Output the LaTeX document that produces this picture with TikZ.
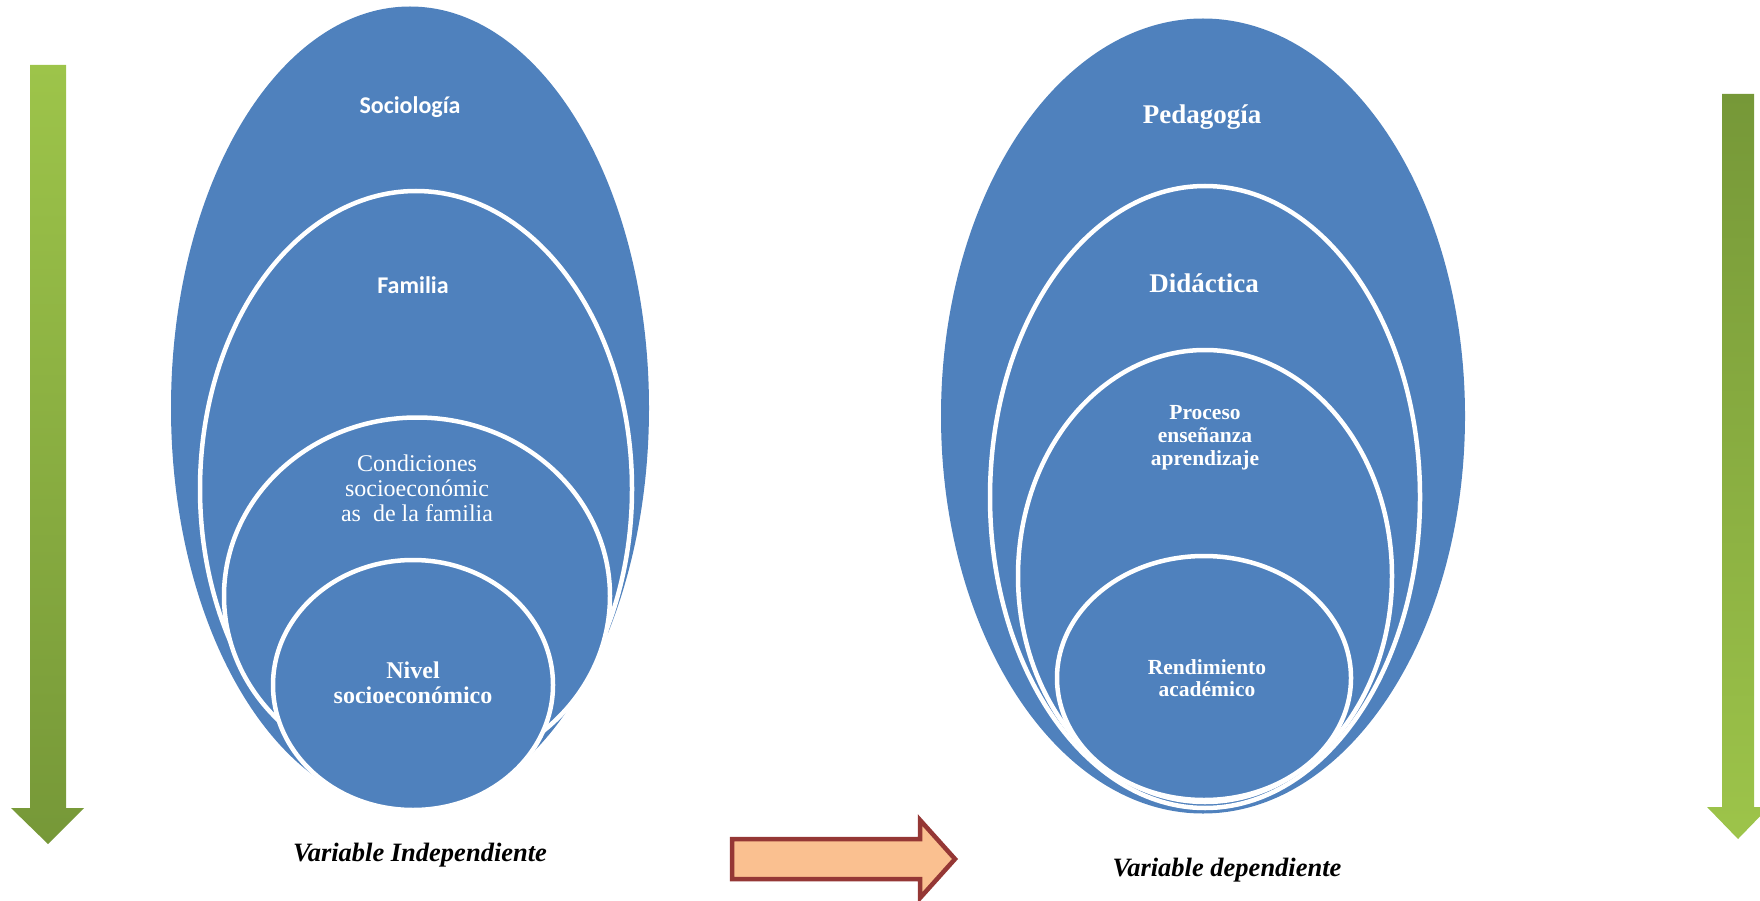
\documentclass[tikz,border=0pt]{standalone}
\usepackage{fontspec}
\setmainfont{Liberation Serif}[
    BoldFont={Liberation Serif Bold},
    ItalicFont={Liberation Serif Italic},
    BoldItalicFont={Liberation Serif Bold Italic}]
\newfontfamily\calibrifont{Carlito}
\usepackage{tikz}
\usetikzlibrary{shapes.geometric}

\definecolor{ovalblue}{RGB}{79,129,189}
\definecolor{greenlight}{RGB}{157,196,74}
\definecolor{greendark}{RGB}{118,152,56}
\definecolor{arrowfill}{RGB}{250,192,144}
\definecolor{arrowline}{RGB}{149,55,53}

\tikzset{
    outeroval/.style={ellipse, fill=ovalblue, inner sep=0pt},
    inneroval/.style={ellipse, fill=ovalblue, draw=white, line width=4.5pt, inner sep=0pt},
    ovaltext/.style={text=white, align=center, inner sep=0pt},
    vartext/.style={font=\fontsize{26.5}{29}\selectfont\bfseries\itshape, inner sep=0pt}
}

\begin{document}
\begin{tikzpicture}[x=1pt, y=1pt]
        \useasboundingbox (0,0) rectangle (1760,-901);

        % Left nest (the independent variable)
        \node[outeroval, minimum width=478pt, minimum height=803pt] (soc) at (410,-408) {};
        \node[inneroval, minimum width=432pt, minimum height=596pt] (fam) at (416,-489) {};
        \node[inneroval, minimum width=386pt, minimum height=357pt] (cond) at (417,-596) {};
        \node[inneroval, minimum width=280pt, minimum height=250pt] (niv) at (413,-685) {};

        % Labels of the left nest
        \node[ovaltext, font=\calibrifont\bfseries\fontsize{24}{28}\selectfont] (soclabel) at (410,-107) {Sociología};
        \node[ovaltext, font=\calibrifont\bfseries\fontsize{24}{28}\selectfont] (famlabel) at (413,-285) {Familia};
        \node[ovaltext, font=\fontsize{24}{25}\selectfont] (condlabel) at (417,-488) {Condiciones\\socioeconómic\\as~ de la familia};
        \node[ovaltext, font=\bfseries\fontsize{24}{25}\selectfont] (nivlabel) at (413,-683) {Nivel\\socioeconómico};

        % Right nest (the dependent variable)
        \node[outeroval, minimum width=524pt, minimum height=795pt] (ped) at (1203,-416) {};
        \node[inneroval, minimum width=430pt, minimum height=622pt] (did) at (1205,-497) {};
        \node[inneroval, minimum width=374pt, minimum height=452pt] (proc) at (1205,-576) {};
        \node[inneroval, minimum width=294pt, minimum height=244pt] (rend) at (1204,-678) {};

        % Labels of the right nest
        \node[ovaltext, font=\bfseries\fontsize{27}{30}\selectfont] (pedlabel) at (1202,-117) {Pedagogía};
        \node[ovaltext, font=\bfseries\fontsize{27}{30}\selectfont] (didlabel) at (1204,-283) {Didáctica};
        \node[ovaltext, font=\bfseries\fontsize{21.5}{23}\selectfont] (proclabel) at (1205,-438) {Proceso\\enseñanza\\aprendizaje};
        \node[ovaltext, font=\bfseries\fontsize{21.5}{22}\selectfont] (rendlabel) at (1207,-678) {Rendimiento\\académico};

        % Captions under each nest
        \node[vartext] (indep) at (420,-855) {Variable Independiente};
        \node[vartext] (dep) at (1227,-870) {Variable dependiente};

        % Green side arrows
        \shade[top color=greenlight, bottom color=greendark]
            (30,-65) -- (66,-65) -- (66,-808) -- (84,-808) -- (48,-844) -- (11,-808) -- (30,-808) -- cycle;
        \shade[top color=greendark, bottom color=greenlight]
            (1722,-94) -- (1754,-94) -- (1754,-807) -- (1769,-807) -- (1738,-839) -- (1707,-807) -- (1722,-807) -- cycle;

        % Block arrow between the two variables
        \draw[arrowline, fill=arrowfill, line width=4.5pt, line join=miter]
            (732,-839) -- (920,-839) -- (920,-820) -- (955,-859) -- (920,-898) -- (920,-879) -- (732,-879) -- cycle;
    \end{tikzpicture}
\end{document}
